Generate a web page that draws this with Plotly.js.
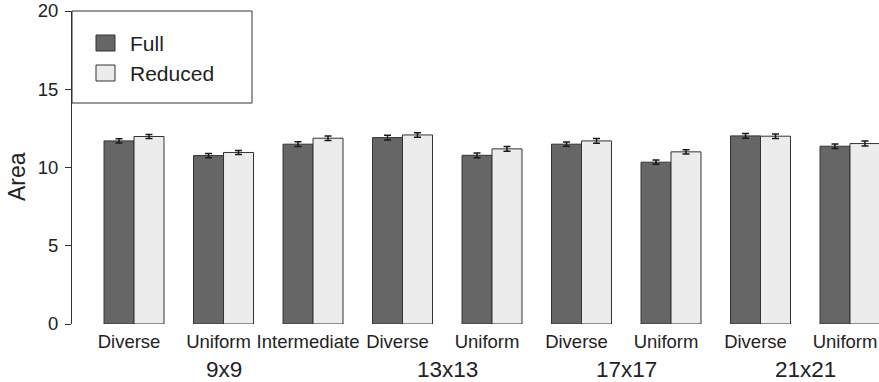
<!DOCTYPE html>
<html>
<head>
<meta charset="utf-8">
<script src="https://cdn.plot.ly/plotly-3.0.1.min.js"></script>
<style>
  html, body { margin: 0; padding: 0; background: #fff; }
  #chart { width: 879px; height: 382px; }
</style>
</head>
<body>
<div id="chart"></div>
<script>
// Board layouts and their grid sizes
const categories = ['Diverse', 'Uniform', 'Intermediate', 'Diverse', 'Uniform', 'Diverse', 'Uniform', 'Diverse', 'Uniform'];
const gridSizes = ['9x9', '9x9', '9x9', '13x13', '13x13', '17x17', '17x17', '21x21', '21x21'];

// Mean area and standard error for each model
const seriesNames = ['Full', 'Reduced'];
const fullArea = [11.70, 10.76, 11.49, 11.91, 10.78, 11.49, 10.34, 12.02, 11.36];
const fullErr = [0.14, 0.14, 0.15, 0.15, 0.15, 0.14, 0.14, 0.15, 0.14];
const reducedArea = [11.98, 10.96, 11.87, 12.08, 11.19, 11.70, 11.00, 12.00, 11.53];
const reducedErr = [0.13, 0.13, 0.15, 0.14, 0.15, 0.15, 0.14, 0.14, 0.16];

const yTicks = [0, 5, 10, 15, 20];
const yTitle = 'Area';

const FONT = 'Liberation Sans, Arial, sans-serif';
const TEXT = '#222222';
const fills = ['#666666', '#ebeceb'];

const W = 879, H = 382;
const M = { l: 72, r: 0, t: 11, b: 58 };
const plotW = W - M.l - M.r, plotH = H - M.t - M.b;
// pixel position -> paper fraction
const px = v => (v - M.l) / plotW;
const py = v => 1 - (v - M.t) / plotH;

const idx = categories.map((_, i) => i);

const traces = [
  { y: fullArea, e: fullErr },
  { y: reducedArea, e: reducedErr }
].map((s, k) => ({
  type: 'bar',
  name: seriesNames[k],
  x: idx,
  y: s.y,
  marker: { color: fills[k], line: { color: '#333333', width: 1 } },
  error_y: { type: 'data', array: s.e, visible: true, color: '#1a1a1a', thickness: 1.5, width: 3.5 },
  showlegend: false,
  hoverinfo: 'skip'
}));

// Grid-size labels centred under each group of layouts
const groupOrder = [...new Set(gridSizes)];
const groupAnnotations = groupOrder.map(g => {
  const members = idx.filter(i => gridSizes[i] === g);
  const centre = members.reduce((a, b) => a + b, 0) / members.length;
  return {
    x: centre, xref: 'x', y: py(369), yref: 'paper',
    text: g, showarrow: false, xanchor: 'center', yanchor: 'middle',
    font: { family: FONT, size: 22.5, color: TEXT }
  };
});

// Vertical axis title
const titleAnnotation = {
  x: px(17), xref: 'paper', y: py(176), yref: 'paper', xanchor: 'center', yanchor: 'middle',
  text: yTitle, textangle: -90, showarrow: false,
  font: { family: FONT, size: 23, color: TEXT }
};

// Hand-drawn legend box in the top-left corner
const legendRows = [43, 73];
const legendShapes = [
  { type: 'rect', xref: 'paper', yref: 'paper', x0: px(72), x1: px(252), y0: py(11), y1: py(103),
    line: { color: '#333333', width: 1 }, fillcolor: '#ffffff', layer: 'above' }
].concat(legendRows.map((cy, k) => ({
  type: 'rect', xref: 'paper', yref: 'paper', x0: px(96), x1: px(115), y0: py(cy - 8), y1: py(cy + 8),
  line: { color: '#333333', width: 1 }, fillcolor: fills[k], layer: 'above'
})));
const legendLabels = legendRows.map((cy, k) => ({
  x: px(128), xref: 'paper', y: py(cy), yref: 'paper', text: seriesNames[k],
  showarrow: false, xanchor: 'left', yanchor: 'middle',
  font: { family: FONT, size: 21, color: TEXT }
}));

const layout = {
  width: W, height: H,
  margin: M,
  paper_bgcolor: '#ffffff', plot_bgcolor: '#ffffff',
  barmode: 'group', bargap: 0.33, bargroupgap: 0,
  font: { family: FONT, color: TEXT },
  xaxis: {
    range: [-0.693, 8.324],
    tickmode: 'array', tickvals: idx, ticktext: categories,
    ticks: '', showline: false, showgrid: false, zeroline: false,
    tickfont: { family: FONT, size: 18.5, color: TEXT },
    ticklabelstandoff: 4,
    ticklabelshift: -5,
    ticklabeloverflow: 'allow'
  },
  yaxis: {
    range: [0, 20],
    tickmode: 'array', tickvals: yTicks,
    ticks: 'outside', ticklen: 6, tickwidth: 1, tickcolor: '#333333',
    showline: true, linecolor: '#333333', linewidth: 1,
    showgrid: false, zeroline: false,
    tickfont: { family: FONT, size: 18.5, color: TEXT },
    ticklabelstandoff: 3
  },
  shapes: legendShapes,
  annotations: groupAnnotations.concat([titleAnnotation], legendLabels)
};

Plotly.newPlot('chart', traces, layout, { displayModeBar: false, staticPlot: true });
</script>
</body>
</html>
